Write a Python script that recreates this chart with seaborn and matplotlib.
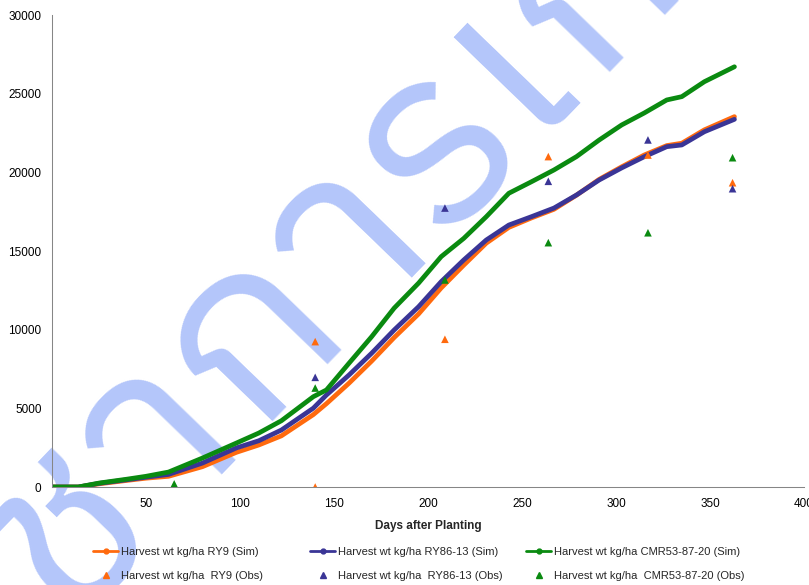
import pandas as pd
import matplotlib
matplotlib.use("Agg")
import matplotlib.pyplot as plt
import seaborn as sns
from matplotlib.lines import Line2D
from matplotlib import font_manager
from matplotlib.ft2font import FT2Font

# simulated harvest weight (kg/ha)
sim_days = [0, 14, 25, 40, 50, 62, 80, 98, 110, 122, 139, 146, 158, 170, 182,
            195, 207, 219, 231, 243, 255, 267, 279, 291, 303, 315, 327, 335, 347, 363]
sim_ry9 = [0, 0, 200, 420, 560, 680, 1290, 2200, 2670, 3250, 4600, 5300, 6600, 8000, 9500,
           11000, 12650, 14100, 15500, 16500, 17100, 17650, 18550, 19550, 20350, 21100, 21700,
           21850, 22700, 23540]
sim_ry86 = [0, 0, 230, 460, 620, 800, 1520, 2480, 2940, 3620, 5010, 5850, 7120, 8500, 9980,
            11460, 13050, 14430, 15700, 16650, 17180, 17730, 18560, 19510, 20280, 20990, 21630,
            21740, 22580, 23370]
sim_cmr = [0, 0, 250, 500, 680, 950, 1840, 2790, 3430, 4210, 5740, 6170, 7870, 9550, 11370,
           12960, 14640, 15800, 17180, 18670, 19400, 20150, 21000, 22050, 23010, 23770, 24600,
           24810, 25760, 26710]

# observed values
obs_days_ry9 = [140, 140, 209, 264, 317, 362]
obs_ry9 = [0, 9240, 9390, 21000, 21100, 19340]
obs_days = [65, 140, 209, 264, 317, 362]
obs_ry86 = [50, 6970, 17730, 19430, 22060, 18960]
obs_cmr = [200, 6290, 13160, 15530, 16160, 20930]

sim_labels = ["Harvest wt kg/ha RY9 (Sim)", "Harvest wt kg/ha RY86-13 (Sim)",
              "Harvest wt kg/ha CMR53-87-20 (Sim)"]
obs_labels = ["Harvest wt kg/ha  RY9 (Obs)", "Harvest wt kg/ha  RY86-13 (Obs)",
              "Harvest wt kg/ha  CMR53-87-20 (Obs)"]
colors = ["#ff6a0e", "#3a3596", "#0a8a10"]

sns.set_style("white")
plt.rcParams["font.family"] = ["Liberation Sans", "DejaVu Sans"]

fig = plt.figure(figsize=(8.09, 5.85), dpi=100)
ax = fig.add_axes([52 / 809, 1 - 487 / 585, 752 / 809, 472 / 585])
ax.patch.set_alpha(0)

# watermark, only if some installed font has Thai glyphs (prefer a loopless one)
thai_fonts = []
for f in font_manager.fontManager.ttflist:
    try:
        if 0x0E01 in FT2Font(f.fname).get_charmap():
            thai_fonts.append(f.name)
    except Exception:
        pass
if thai_fonts:
    plain = [n for n in thai_fonts if "Thai" in n and "Looped" not in n]
    thai_font = plain[0] if plain else thai_fonts[0]
    fig.text(0.36, 0.50, "กรมวิชาการเกษตร", fontsize=180, rotation=46,
             color="#b4c6fa", ha="center", va="center", family=thai_font,
             fontweight="normal", zorder=-1)

sim = pd.DataFrame({"day": sim_days, "ry9": sim_ry9, "ry86": sim_ry86, "cmr": sim_cmr})
for col, c in zip(["ry9", "ry86", "cmr"], colors):
    sns.lineplot(data=sim, x="day", y=col, color=c, linewidth=3.4, ax=ax)

sns.scatterplot(x=obs_days_ry9, y=obs_ry9, color=colors[0], marker="^", s=30,
                edgecolor="none", ax=ax, zorder=4)
sns.scatterplot(x=obs_days, y=obs_ry86, color=colors[1], marker="^", s=30,
                edgecolor="none", ax=ax, zorder=4)
sns.scatterplot(x=obs_days, y=obs_cmr, color=colors[2], marker="^", s=30,
                edgecolor="none", ax=ax, zorder=4)

ax.set_xlim(0, 400)
ax.set_ylim(0, 30000)
ax.set_xticks(range(0, 401, 50))
ax.set_xticklabels([""] + [str(v) for v in range(50, 401, 50)])
ax.set_yticks(range(0, 30001, 5000))
ax.set_xlabel("Days after Planting", fontsize=8.5, fontweight="bold", labelpad=7)
ax.set_ylabel("")
ax.tick_params(axis="both", labelsize=8.5, colors="#868686", labelcolor="black",
               length=4, width=0.75, direction="out")
ax.tick_params(axis="x", pad=4)
for side in ["top", "right"]:
    ax.spines[side].set_visible(False)
for side in ["left", "bottom"]:
    ax.spines[side].set_color("#868686")
    ax.spines[side].set_linewidth(0.75)

# one legend per column so the columns sit at fixed places like the original
col_x = [83, 300, 516]
for i in range(3):
    h_sim = Line2D([], [], color=colors[i], lw=2, marker="o", markersize=3.5,
                   label=sim_labels[i])
    h_obs = Line2D([], [], color=colors[i], lw=0, marker="^", markersize=5,
                   label=obs_labels[i])
    leg = fig.legend(handles=[h_sim, h_obs], loc="upper left",
                     bbox_to_anchor=(col_x[i] / 809, 1 - 537 / 585),
                     frameon=False, fontsize=8, handlelength=2.25,
                     handletextpad=0.3, labelspacing=1.25)

fig.savefig("out.png", dpi=100)
